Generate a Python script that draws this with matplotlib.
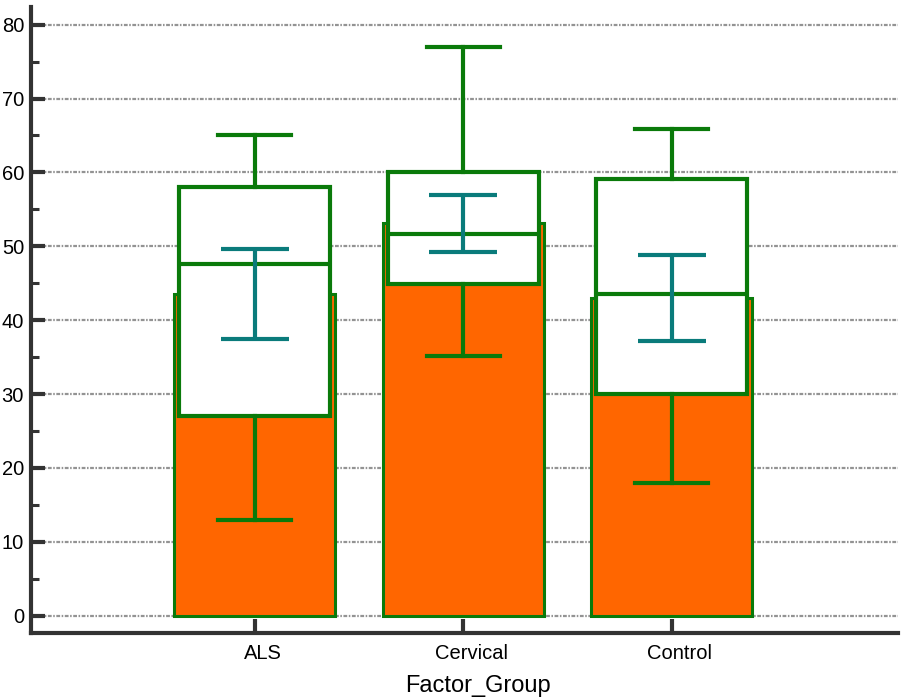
import matplotlib.pyplot as plt
from matplotlib.ticker import MultipleLocator
from matplotlib.transforms import ScaledTranslation

plt.rcParams['font.family'] = ['Liberation Sans', 'DejaVu Sans']

# values
groups = ['ALS', 'Cervical', 'Control']
means = [43.6, 53.1, 43.0]
mean_err = [6.1, 3.85, 5.85]
q1 = [27.1, 44.9, 30.0]
medians = [47.6, 51.6, 43.5]
q3 = [58.0, 60.0, 59.1]
whis_lo = [13.0, 35.1, 18.0]
whis_hi = [65.1, 77.0, 65.9]

orange = '#ff6600'
green = '#0a7a0a'
teal = '#0a7b7b'
dark = '#333333'

fig = plt.figure(figsize=(9.04, 7.0), dpi=100)
ax = fig.add_axes([0.0343, 0.0961, 0.959, 0.894])

x = list(range(len(groups)))

# mean bars
ax.bar(x, means, width=0.773, color=orange, edgecolor=green, linewidth=2.2, zorder=2)

# box plots on top
stats = []
for i in x:
    stats.append({'med': medians[i], 'q1': q1[i], 'q3': q3[i],
                  'whislo': whis_lo[i], 'whishi': whis_hi[i], 'fliers': []})
ax.bxp(stats, positions=x, widths=0.725, capwidths=0.35, patch_artist=True,
       showfliers=False, manage_ticks=False,
       boxprops=dict(facecolor='white', edgecolor=green, linewidth=3),
       medianprops=dict(color=green, linewidth=3),
       whiskerprops=dict(color=green, linewidth=3),
       capprops=dict(color=green, linewidth=3),
       zorder=3)

# mean error bars
ax.errorbar(x, means, yerr=mean_err, fmt='none', ecolor=teal, elinewidth=3,
            capsize=24.8, capthick=3, zorder=4)

ax.set_xlim(-1.075, 3.087)
ax.set_ylim(-2.3, 82.4)

ax.set_xticks(x)
ax.set_xticklabels(groups)
ax.yaxis.set_major_locator(MultipleLocator(10))
ax.yaxis.set_minor_locator(MultipleLocator(5))

ax.tick_params(axis='both', which='major', direction='in', length=10, width=3,
               color=dark, labelsize=14.5, pad=8)
ax.tick_params(axis='y', which='major', pad=5)
ax.tick_params(axis='y', which='minor', direction='in', length=5.5, width=2.2,
               color=dark)
ax.tick_params(axis='x', which='minor', bottom=False)

# labels sit a little right of their ticks in the reference
shift = ScaledTranslation(6 / 72, 0, fig.dpi_scale_trans)
for lab in ax.get_xticklabels():
    lab.set_transform(lab.get_transform() + shift)

for side in ['top', 'right']:
    ax.spines[side].set_visible(False)
for side in ['left', 'bottom']:
    ax.spines[side].set_color(dark)
    ax.spines[side].set_linewidth(3)

ax.yaxis.grid(True, which='major', color='#939393', linewidth=1.6,
              linestyle=(0, (1.7, 0.7, 0.7, 0.7)), zorder=0)
ax.set_axisbelow(True)

ax.set_xlabel('Factor_Group', fontsize=17, labelpad=9)
ax.xaxis.label.set_x(0.515)

fig.savefig('out.png', dpi=100)
